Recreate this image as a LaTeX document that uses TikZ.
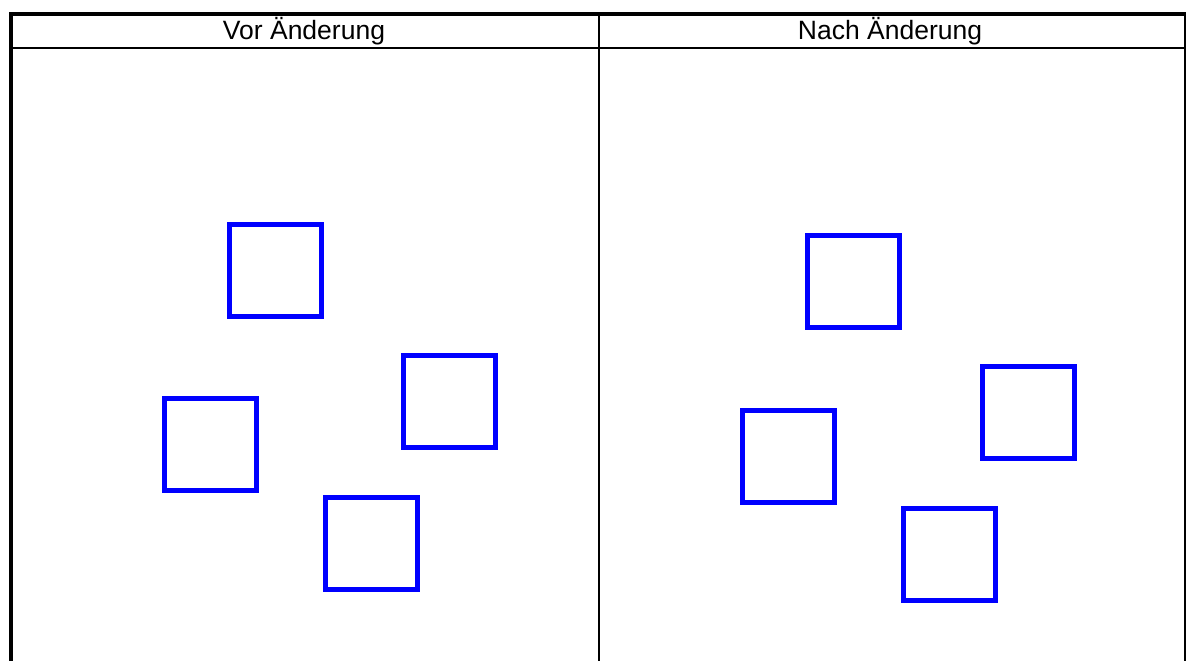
\documentclass[tikz,border=0pt]{standalone}
\usepackage{fontspec}
\setmainfont{Liberation Sans}
\begin{document}
\begin{tikzpicture}[x=1pt,y=-1pt,
  sq/.style={draw=blue,line width=5pt,minimum size=92pt,inner sep=0pt,outer sep=0pt},
  head/.style={font=\fontsize{26.5}{30}\selectfont,inner sep=0pt},
  frame/.style={draw=black,line cap=rect}]
\useasboundingbox (0,0) rectangle (1186,661);
% frame
\draw[frame,line width=4pt] (11,661) -- (11,14) -- (1186,14);
\draw[black,line width=2pt] (11,48) -- (1186,48);
\draw[black,line width=2pt] (599,14) -- (599,661);
\draw[black,line width=1.6pt] (1185,14) -- (1185,661);
% headers
\node[head] (h1) at (304,31.5) {Vor Änderung};
\node[head] (h2) at (890,31.5) {Nach Änderung};
% before
\node[sq] (a) at (275,270.5) {};
\node[sq] (b) at (210,444.5) {};
\node[sq] (c) at (449.5,401) {};
\node[sq] (d) at (371.5,543.5) {};
% after
\node[sq] (e) at (853,281) {};
\node[sq] (f) at (788.5,456) {};
\node[sq] (g) at (1028,412) {};
\node[sq] (h) at (949.5,554.5) {};
\end{tikzpicture}
\end{document}
